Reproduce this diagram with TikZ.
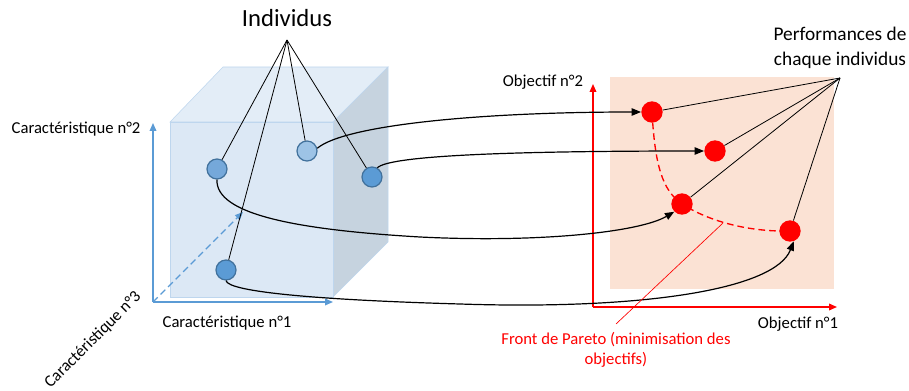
\documentclass[tikz,border=0pt]{standalone}
\usepackage{fontspec}
\setmainfont{Carlito}
\usepackage{xcolor}
\usetikzlibrary{positioning,arrows.meta}

\definecolor{cubefront}{RGB}{220,232,245}
\definecolor{cubetop}{RGB}{227,237,247}
\definecolor{cubeside}{RGB}{198,211,223}
\definecolor{cubeedge}{RGB}{190,214,238}
\definecolor{axblue}{RGB}{91,155,213}
\definecolor{indlight}{RGB}{157,195,230}
\definecolor{indmid}{RGB}{117,168,218}
\definecolor{inddark}{RGB}{91,155,213}
\definecolor{indedge}{RGB}{65,113,156}
\definecolor{peach}{RGB}{251,226,212}

\begin{document}
\begin{tikzpicture}[
  x=0.75pt, y=-0.75pt,
  >=Stealth,
  every node/.style={font=\fontsize{12.5}{15}\selectfont},
  lbl/.style={inner sep=1pt, align=center},
  indiv/.style={circle, draw=indedge, line width=0.9pt, minimum size=15pt, inner sep=0pt},
  perf/.style={circle, fill=red, minimum size=16pt, inner sep=0pt},
  axis/.style={-{Triangle[length=6pt,width=5pt]}, line width=1pt},
  flow/.style={-{Triangle[length=7pt,width=5.5pt]}, line width=0.9pt, black},
  pointer/.style={line width=0.6pt, black}
]
\useasboundingbox (0,0) rectangle (909,391);

% ---- Cube of characteristics ----
\fill[cubetop, draw=cubeedge] (170,122) -- (223,67) -- (388,67) -- (333,122) -- cycle;
\fill[cubeside, draw=cubeedge] (333,122) -- (388,67) -- (388,242) -- (333,297) -- cycle;
\fill[cubefront, draw=cubeedge] (170,122) rectangle (333,297);

% ---- Characteristic axes ----
\coordinate (o) at (153,302);
\coordinate (c1end) at (333,302);
\coordinate (c2end) at (153,123);
\coordinate (c3end) at (243,212);
\draw[axis, axblue] (o) -- (c1end);
\draw[axis, axblue] (o) -- (c2end);
\draw[axis, axblue, dashed, dash pattern=on 5pt off 3pt] (o) -- (c3end);
\node[lbl, anchor=east] (c2) at (142,129) {Caractéristique n°2};
\node[lbl] (c1) at (227,323) {Caractéristique n°1};
\node[lbl, rotate=45, inner sep=0pt] (c3) at (93,340) {Caractéristique n°3};

% ---- Individuals ----
\node[indiv, fill=indmid]   (iA) at (217,169) {};
\node[indiv, fill=indlight] (iB) at (307,151) {};
\node[indiv, fill=inddark]  (iC) at (372,177) {};
\node[indiv, fill=inddark]  (iD) at (226,270) {};
\node[lbl, font=\fontsize{18.5}{22}\selectfont] (indiv) at (287,18) {Individus};
\coordinate (indapex) at (287,40);
\foreach \i in {iA, iB, iC, iD}{
  \draw[pointer] (indapex) -- (\i);
}

% ---- Objective space ----
\fill[peach] (610,77) rectangle (834,289);
\coordinate (oo) at (593,307);
\coordinate (o1end) at (837,307);
\coordinate (o2end) at (593,84);
\draw[axis, red] (oo) -- (o1end);
\draw[axis, red] (oo) -- (o2end);
\node[lbl] (o2) at (543,82) {Objectif n°2};
\node[lbl] (o1) at (798,324) {Objectif n°1};

% ---- Pareto front ----
\coordinate (p1c) at (652,112);
\coordinate (p3c) at (682,204);
\coordinate (p4c) at (790,231);
\draw[red, line width=1pt, dash pattern=on 5pt off 3pt]
  (p1c) .. controls (655,165) and (662,190) .. (p3c)
        .. controls (710,222) and (750,232) .. (p4c);

% ---- Performances ----
\node[perf] (p1) at (p1c) {};
\node[perf] (p2) at (715,151) {};
\node[perf] (p3) at (p3c) {};
\node[perf] (p4) at (p4c) {};
\node[lbl, font=\fontsize{14.5}{18.5}\selectfont] (perftxt) at (840,48) {Performances de\\chaque individus};
\coordinate (perfapex) at (840,78);
\foreach \p in {p1, p2, p3, p4}{
  \draw[pointer] (perfapex) -- (\p);
}

% ---- Mapping individuals -> performances ----
\draw[flow] (iB.15) .. controls (345,125) and (480,112) .. (p1.west);
\draw[flow] (iC.60) .. controls (390,155) and (520,151) .. (p2.west);
\draw[flow] (iA.south) .. controls (215,215) and (300,230) .. (420,237)
            .. controls (540,243) and (640,232) .. (p3.225);
\draw[flow] (iD.south) .. controls (228,292) and (320,300) .. (460,304)
            .. controls (640,310) and (775,290) .. (p4.290);

% ---- Pareto label ----
\node[lbl, text=red] (ptxt) at (616,350) {Front de Pareto (minimisation des\\objectifs)};
\coordinate (fp) at (723,223);
\draw[red, line width=0.5pt] (616,324) -- (fp);

\end{tikzpicture}
\end{document}
